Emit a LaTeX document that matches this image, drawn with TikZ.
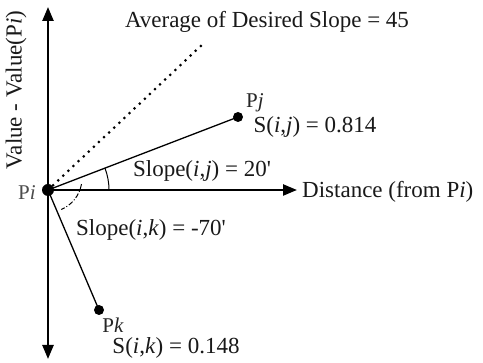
\documentclass[tikz,border=0pt]{standalone}
\usepackage{fontspec}
\setmainfont{Liberation Serif}
\usetikzlibrary{arrows.meta}
\begin{document}
\begin{tikzpicture}[x=1pt,y=-1pt,
  lbl/.style={font=\fontsize{23}{26}\selectfont, inner sep=0pt, text=black!90},
  ptlbl/.style={font=\fontsize{21}{24}\selectfont, inner sep=0pt, text=black!85},
  axis/.style={line width=2.4pt},
  tip/.style={-{Triangle[length=14pt,width=11pt]}},
  dotnode/.style={circle, fill=black, inner sep=0pt, minimum size=10pt},
  seg/.style={line width=1.3pt},
  anglearc/.style={line width=1pt},
  dashdotarc/.style={line width=1pt, dash pattern=on 5pt off 2pt on 1pt off 2pt},
  dotline/.style={line width=3pt, dash pattern=on 0pt off 7pt, line cap=round}]
\useasboundingbox (0,0) rectangle (483,363);
% coordinates
\coordinate (O) at (48,190);
\coordinate (top) at (48,7);
\coordinate (bot) at (48,359);
\coordinate (right) at (297,190);
\coordinate (avg) at (205,42);
% axes
\draw[axis,tip] (O) -- (top);
\draw[axis,tip] (O) -- (bot);
\draw[axis,tip] (O) -- (right);
% points
\node[dotnode, minimum size=10pt] (pj) at (238,117) {};
\node[dotnode, minimum size=10pt] (pk) at (99,310) {};
% lines
\draw[seg] (O) -- (pj.center);
\draw[seg] (O) -- (pk.center);
\draw[dotline] (O) -- (avg);
% arcs
\draw[anglearc] (O) ++(61,0) arc[start angle=0, end angle=-21, radius=61];
\draw[dashdotarc] (O) ++(-10:34) arc[start angle=10, end angle=67, radius=34];
% origin dot
\node[dotnode, minimum size=12pt] (pi) at (O) {};
% labels
\node[lbl] (avglbl) at (267,22) {Average of Desired Slope = 45};
\node[lbl, anchor=west] (distlbl) at (302,192) {Distance (from P\textit{i})};
\node[lbl, rotate=90] (vallbl) at (16,90) {Value - Value(P\textit{i})};
\node[ptlbl, text=black!70] (pilbl) at (27,193) {P\textit{i}};
\node[ptlbl] (pjlbl) at (255,103) {P\textit{j}};
\node[lbl] (sij) at (315,127) {S(\textit{i},\textit{j}) = 0.814};
\node[lbl] (slij) at (202,171) {Slope(\textit{i},\textit{j}) = 20\textquotesingle};
\node[lbl] (slik) at (151,230) {Slope(\textit{i},\textit{k}) = -70\textquotesingle};
\node[ptlbl] (pklbl) at (113,325) {P\textit{k}};
\node[lbl] (sik) at (176,348) {S(\textit{i},\textit{k}) = 0.148};
\end{tikzpicture}
\end{document}
